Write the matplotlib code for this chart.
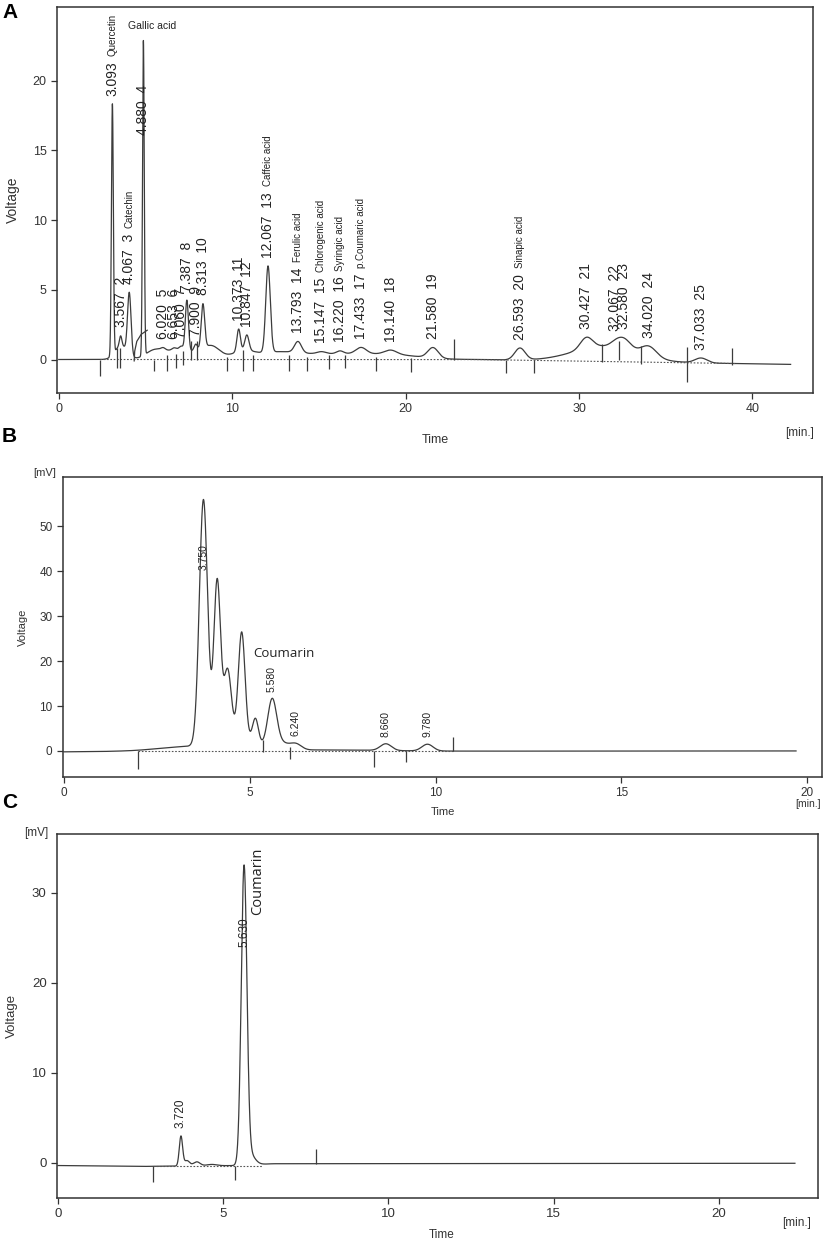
import numpy as np
import matplotlib
matplotlib.use('Agg')
import matplotlib.pyplot as plt

plt.rcParams['font.family'] = ['Liberation Sans', 'DejaVu Sans']

# ---------------- panel A: peak table (time, height, sigma) ----------------
a_rt = [3.093, 3.567, 4.067, 4.880, 6.020, 6.653, 7.060, 7.387, 7.900, 8.313,
        10.373, 10.847, 12.067, 13.793, 15.147, 16.220, 17.433, 19.140, 21.580,
        26.593, 30.427, 32.067, 32.580, 34.020, 37.033]
a_h = [18.0, 0.7, 4.4, 22.6, 0.15, 0.15, 0.25, 3.6, 0.5, 3.2,
       1.6, 1.1, 6.2, 0.8, 0.15, 0.2, 0.45, 0.3, 0.75,
       0.85, 0.8, 0.2, 0.75, 0.75, 0.35]
a_w = [0.055, 0.07, 0.10, 0.05, 0.12, 0.12, 0.12, 0.09, 0.10, 0.10,
       0.10, 0.12, 0.13, 0.20, 0.25, 0.20, 0.30, 0.35, 0.30,
       0.30, 0.35, 0.30, 0.40, 0.45, 0.35]
a_num = ['', '2', '3', '4', '5', '6', '7', '8', '9', '10', '11', '12', '13', '14',
         '15', '16', '17', '18', '19', '20', '21', '22', '23', '24', '25']
a_name = ['Quercetin', '', 'Catechin', '', '', '', '', '', '', '', '', '',
          'Caffeic acid', 'Ferulic acid', 'Chlorogenic acid', 'Syringic acid',
          'p.Coumaric acid', '', '', 'Sinapic acid', '', '', '', '', '']
# broad humps under the resolved peaks
a_bg_rt = [3.6, 5.5, 7.0, 8.8, 10.6, 12.5, 16.0, 19.5, 31.5]
a_bg_h = [1.0, 0.55, 0.7, 0.9, 0.5, 0.4, 0.4, 0.2, 1.1]
a_bg_w = [0.35, 0.5, 0.9, 0.5, 0.6, 1.2, 2.5, 1.5, 1.8]
a_base_t = [0.0, 24.0, 42.2]
a_base_v = [0.0, 0.0, -0.35]
# integration marks (time, lower end, upper end)
a_mark_t = [2.35, 3.35, 3.55, 5.5, 6.25, 6.75, 7.15, 7.6, 8.0, 9.7, 10.6, 11.2,
            13.3, 14.3, 15.6, 16.5, 18.3, 20.3, 22.8, 25.8, 27.4, 31.3, 32.3,
            33.6, 36.2, 38.8]
a_mark_lo = [-1.2, -0.6, -0.6, -0.8, -0.8, -0.6, -0.4, 0.0, 0.0, -0.8, -0.8, -0.8,
             -0.8, -0.8, -0.7, -0.6, -0.8, -0.9, 0.0, -1.0, -1.0, -0.2, 0.0,
             -0.3, -1.6, -0.4]
a_mark_hi = [0.0, 0.8, 0.8, 0.0, 0.3, 0.4, 0.6, 1.3, 1.3, 0.2, 0.7, 0.3,
             0.3, 0.2, 0.3, 0.3, 0.2, 0.1, 1.5, 0.0, 0.0, 1.1, 1.3,
             1.0, 0.9, 0.8]
a_arc_t = [4.35, 4.38, 4.5, 4.75, 5.1]
a_arc_v = [-0.1, 0.6, 1.3, 1.8, 2.1]

# ---------------- panel B ----------------
b_rt = [3.30, 3.75, 4.12, 4.40, 4.60, 4.78, 5.15, 5.60, 5.85, 6.24, 7.0, 8.66, 9.78]
b_h = [1.0, 54.5, 35.5, 15.0, 3.0, 23.5, 5.5, 10.5, 1.5, 1.3, 0.3, 1.5, 1.5]
b_w = [0.8, 0.11, 0.09, 0.10, 0.5, 0.09, 0.08, 0.12, 0.2, 0.15, 1.5, 0.15, 0.15]
b_base_t = [0.0, 1.5, 19.7]
b_base_v = [-0.2, -0.1, 0.0]
b_lab = [3.750, 5.580, 6.240, 8.660, 9.780]
b_mark_t = [2.0, 5.35, 6.08, 8.33, 9.2, 10.46]
b_mark_lo = [-4.0, -0.3, -1.7, -3.6, -2.5, 0.0]
b_mark_hi = [0.0, 2.5, 0.8, 0.0, 0.0, 3.0]

# ---------------- panel C ----------------
c_rt = [3.72, 3.90, 4.20, 4.65, 5.63, 5.80]
c_h = [3.3, 0.6, 0.45, 0.15, 32.7, 1.2]
c_w = [0.05, 0.08, 0.10, 0.15, 0.085, 0.15]
c_base_t = [0.0, 2.5, 5.4, 6.5, 22.3]
c_base_v = [-0.3, -0.4, -0.3, -0.1, -0.05]
c_lab = [3.720, 5.630]
c_mark_t = [2.87, 5.36, 7.8]
c_mark_lo = [-2.1, -1.9, -0.1]
c_mark_hi = [-0.3, -0.3, 1.5]


def trace(t, rt, h, w, base_t, base_v):
    y = np.interp(t, base_t, base_v)
    for r, hh, ww in zip(rt, h, w):
        y = y + hh * np.exp(-(t - r) ** 2 / (2 * ww ** 2))
    return y


def style(ax, xlim, ylim, xt, yt, fs):
    ax.set_xlim(xlim)
    ax.set_ylim(ylim)
    ax.set_xticks(xt)
    ax.set_yticks(yt)
    ax.tick_params(direction='out', length=4, width=0.9, labelsize=fs, colors='#333')
    for s in ax.spines.values():
        s.set_color('#333')
        s.set_linewidth(1.1)


LC = '#3c3c3c'
fig = plt.figure(figsize=(8.3, 12.4), dpi=100)

# ---------- A ----------
axA = fig.add_axes([0.0687, 0.6831, 0.911, 0.3114])
tA = np.linspace(0, 42.2, 6000)
yA = trace(tA, a_rt + a_bg_rt, a_h + a_bg_h, a_w + a_bg_w, a_base_t, a_base_v)
axA.plot(tA, yA, color=LC, lw=0.9)
tb = np.linspace(2.4, 39.0, 500)
axA.plot(tb, np.interp(tb, a_base_t, a_base_v), color='#555', lw=0.8, ls=(0, (1.5, 1.5)))
axA.vlines(a_mark_t, a_mark_lo, a_mark_hi, color=LC, lw=0.9)
axA.plot(a_arc_t, a_arc_v, color=LC, lw=0.9)
style(axA, (-0.1, 43.5), (-2.4, 25.3), [0, 10, 20, 30, 40], [0, 5, 10, 15, 20], 9)

for rt, num, name in zip(a_rt, a_num, a_name):
    top = np.interp(rt, tA, yA)
    y = 16.1 if num == '4' else top + 0.6
    s = f'{rt:.3f}' + (f'  {num}' if num else '')
    t = axA.text(rt, y, s, rotation=90, ha='center', va='bottom', fontsize=10, color='#222')
    if name:
        axA.annotate(name, xy=(0.5, 1), xycoords=t, xytext=(0, 4), textcoords='offset points',
                     rotation=90, ha='center', va='bottom', fontsize=7, color='#222')
axA.text(4.0, 23.9, 'Gallic acid', ha='left', va='center', fontsize=7.5, color='#222')
axA.set_ylabel('Voltage', fontsize=10, color='#333')
axA.yaxis.set_label_coords(-0.049, 0.5)
axA.set_xlabel('Time', fontsize=9, color='#333')
axA.xaxis.set_label_coords(0.5, -0.105)

# ---------- B ----------
axB = fig.add_axes([0.0759, 0.3734, 0.9145, 0.2419])
tB = np.linspace(0, 19.7, 5000)
yB = trace(tB, b_rt, b_h, b_w, b_base_t, b_base_v)
axB.plot(tB, yB, color=LC, lw=0.9)
axB.plot([2.0, 10.46], [0, 0], color='#555', lw=0.8, ls=(0, (1.5, 1.5)))
axB.vlines(b_mark_t, b_mark_lo, b_mark_hi, color=LC, lw=0.9)
style(axB, (-0.03, 20.4), (-5.8, 61), [0, 5, 10, 15, 20], [0, 10, 20, 30, 40, 50], 8.5)
for rt in b_lab:
    y = 40.4 if rt == 3.750 else np.interp(rt, tB, yB) + 1.6
    axB.text(rt, y, f'{rt:.3f}', rotation=90, ha='center', va='bottom', fontsize=7.5, color='#222')
axB.text(5.08, 21.6, 'Coumarin', ha='left', va='center', fontsize=9.5,
         family=['Open Sans', 'DejaVu Sans'], color='#222')
axB.set_ylabel('Voltage', fontsize=8, color='#333')
axB.yaxis.set_label_coords(-0.046, 0.5)
axB.set_xlabel('Time', fontsize=8, color='#333')
axB.xaxis.set_label_coords(0.5, -0.1)

# ---------- C ----------
axC = fig.add_axes([0.0687, 0.0339, 0.9169, 0.2935])
tC = np.linspace(0, 22.3, 5000)
yC = trace(tC, c_rt, c_h, c_w, c_base_t, c_base_v)
axC.plot(tC, yC, color=LC, lw=0.9)
axC.plot([2.87, 6.2], [-0.3, -0.3], color='#555', lw=0.8, ls=(0, (1.5, 1.5)))
axC.vlines(c_mark_t, c_mark_lo, c_mark_hi, color=LC, lw=0.9)
style(axC, (-0.03, 23.0), (-3.9, 36.5), [0, 5, 10, 15, 20], [0, 10, 20, 30], 9.5)
for rt in c_lab:
    y = 24.0 if rt == 5.630 else np.interp(rt, tC, yC) + 0.9
    axC.text(rt, y, f'{rt:.3f}', rotation=90, ha='center', va='bottom', fontsize=8.5, color='#222')
axC.text(6.05, 27.5, 'Coumarin', rotation=90, ha='center', va='bottom', fontsize=10.5,
         family=['Open Sans', 'DejaVu Sans'], color='#222')
axC.set_ylabel('Voltage', fontsize=9.5, color='#333')
axC.yaxis.set_label_coords(-0.051, 0.5)
axC.set_xlabel('Time', fontsize=8.5, color='#333')
axC.xaxis.set_label_coords(0.506, -0.085)

# units and panel letters
fig.text(800 / 830, 1 - 433 / 1240, '[min.]', ha='center', va='center', fontsize=8.5, color='#333')
fig.text(808 / 830, 1 - 804 / 1240, '[min.]', ha='center', va='center', fontsize=7.5, color='#333')
fig.text(797 / 830, 1 - 1223 / 1240, '[min.]', ha='center', va='center', fontsize=8.5, color='#333')
fig.text(45 / 830, 1 - 473 / 1240, '[mV]', ha='center', va='center', fontsize=8, color='#333')
fig.text(36 / 830, 1 - 833 / 1240, '[mV]', ha='center', va='center', fontsize=8.5, color='#333')
for lab, py in [('A', 13), ('B', 437), ('C', 802)]:
    fig.text(2 / 830, 1 - py / 1240, lab, ha='left', va='center', fontsize=15, fontweight='bold')

fig.savefig('out.png', dpi=100)
